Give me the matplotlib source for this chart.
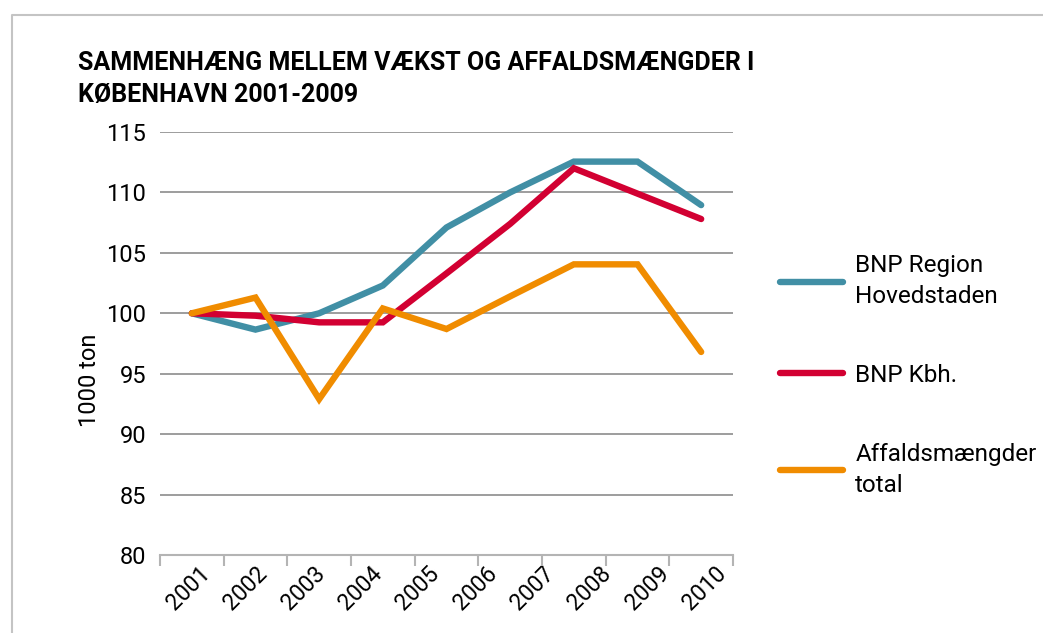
import matplotlib.pyplot as plt
from matplotlib.lines import Line2D
import numpy as np

plt.rcParams['font.family'] = ['Roboto', 'DejaVu Sans']

# data (index, 2001 = 100)
years = ['2001', '2002', '2003', '2004', '2005', '2006', '2007', '2008', '2009']
year_labels = ['2001', '2002', '2003', '2004', '2005', '2006', '2007', '2008', '2009', '2010']
bnp_region = [100, 98.65, 100, 102.3, 107.1, 110.0, 112.55, 112.55, 108.95]
bnp_kbh = [100, 99.8, 99.25, 99.25, 103.3, 107.4, 112.0, 109.9, 107.8]
affald = [100, 101.3, 92.9, 100.4, 98.7, 101.4, 104.05, 104.05, 96.8]

series_names = ['BNP Region\nHovedstaden', 'BNP Kbh.', 'Affaldsmængder\ntotal']
colors = ['#418fa5', '#d20032', '#f08c00']

fig = plt.figure(figsize=(10.43, 6.33), dpi=100)
ax = fig.add_axes([160 / 1043, 1 - 555 / 633, (733 - 160) / 1043, (555 - 132) / 633])

x = np.arange(len(years))
for vals, name, c in zip([bnp_region, bnp_kbh, affald], series_names, colors):
    ax.plot(x, vals, color=c, lw=4.6, label=name, solid_capstyle='round',
            solid_joinstyle='miter')

ax.set_ylim(80, 115)
ax.set_yticks(np.arange(80, 116, 5))
ax.set_xlim(-0.5, len(years) - 0.5)
ax.yaxis.grid(True, color='#8c8c8c', lw=1.2)
ax.set_axisbelow(True)
for s in ['top', 'right', 'left']:
    ax.spines[s].set_visible(False)
ax.spines['bottom'].set_color('#b4b4b4')
ax.spines['bottom'].set_linewidth(1.5)

# tick marks at category boundaries, labels spread over 10 slots as in the original
ax.set_xticks(np.arange(-0.5, len(years)), minor=True)
ax.tick_params(axis='x', which='minor', length=8, width=1.5, color='#b4b4b4', direction='out')
slot = len(years) / len(year_labels)
ax.set_xticks(-0.5 + (np.arange(len(year_labels)) + 0.5) * slot)
ax.set_xticklabels(year_labels, rotation=45, ha='center', va='top', fontsize=16.5)
ax.tick_params(axis='x', which='major', length=0, pad=5)
ax.tick_params(axis='y', length=0, labelsize=17, pad=10)

fig.text(90 / 1043, 1 - 380 / 633, '1000 ton', rotation=90, ha='center', va='center', fontsize=17)

fig.text(78 / 1043, 1 - 79 / 633, 'SAMMENHÆNG MELLEM VÆKST OG AFFALDSMÆNGDER I\nKØBENHAVN 2001-2009',
         ha='left', va='center', fontsize=18, fontweight='bold', linespacing=1.45)

leg = ax.legend(loc='upper left', bbox_to_anchor=(780 / 1043, 1 - 254 / 633),
                bbox_transform=fig.transFigure, frameon=False, fontsize=17.5,
                handlelength=2.6, handletextpad=0.5, labelspacing=2.3, borderpad=0,
                borderaxespad=0)
for t in leg.get_texts():
    t.set_linespacing(1.45)

# outer frame lines
fig.add_artist(Line2D([12 / 1043, 12 / 1043, 1], [0, 1 - 15 / 633, 1 - 15 / 633],
                      transform=fig.transFigure, color='#c4c4c4', lw=1.5))

fig.savefig('out.png', dpi=100)
